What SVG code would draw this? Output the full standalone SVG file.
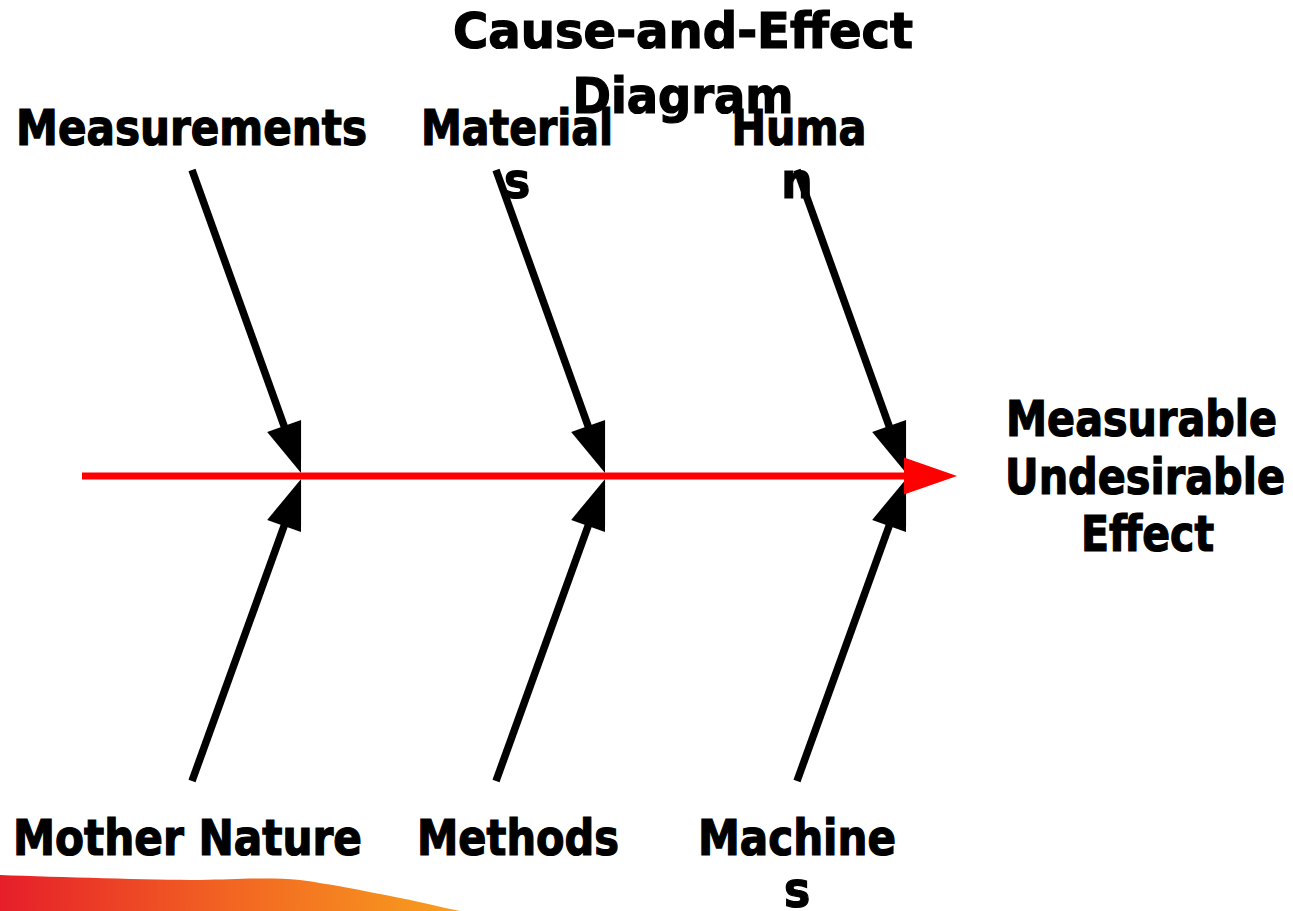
<svg xmlns="http://www.w3.org/2000/svg" width="1293" height="911" viewBox="0 0 1293 911">
  <style>
    .lbl { font-family: "DejaVu Sans Condensed", "DejaVu Sans", "Liberation Sans", sans-serif; font-weight: bold; font-size: 49px; fill: #000; stroke: #000; stroke-width: 1.2; text-anchor: middle; }
    .bone { stroke: #000; stroke-width: 7.5; fill: none; marker-end: url(#ah); }
    .spine { stroke: #ff0000; stroke-width: 7; fill: none; marker-end: url(#ahr); }
  </style>
  <defs>
    <marker id="ah" markerUnits="userSpaceOnUse" markerWidth="52" markerHeight="38" refX="5" refY="18" orient="auto" overflow="visible">
      <path d="M0,0 L50,18 L0,36 Z" fill="#000"/>
    </marker>
    <marker id="ahr" markerUnits="userSpaceOnUse" markerWidth="55" markerHeight="38" refX="1" refY="18.5" orient="auto" overflow="visible">
      <path d="M0,0 L53,18.5 L0,37 Z" fill="#ff0000"/>
    </marker>
    <linearGradient id="swoosh" x1="0" y1="0" x2="1" y2="0">
      <stop offset="0" stop-color="#e61e2a"/>
      <stop offset="0.5" stop-color="#f26522"/>
      <stop offset="1" stop-color="#f8a01e"/>
    </linearGradient>
  </defs>

  <path id="swoosh-band" d="M0,875 C60,877 150,880 200,880 C240,879 270,877 300,880 C330,884 360,890 400,898 C425,903 445,908 460,911 L0,911 Z" fill="url(#swoosh)"/>

  <g id="title">
    <text class="lbl" x="683" y="48" textLength="460" lengthAdjust="spacingAndGlyphs">Cause-and-Effect</text>
    <text class="lbl" x="683" y="113" textLength="221" lengthAdjust="spacingAndGlyphs">Diagram</text>
  </g>

  <g id="connectors">
    <line class="bone" x1="192" y1="170" x2="285.8" y2="430.7"/>
    <line class="bone" x1="496" y1="170" x2="589.8" y2="430.7"/>
    <line class="bone" x1="797" y1="170" x2="890.8" y2="430.7"/>
    <line class="bone" x1="192" y1="781" x2="285.8" y2="521.3"/>
    <line class="bone" x1="496" y1="781" x2="589.8" y2="521.3"/>
    <line class="bone" x1="797" y1="781" x2="890.8" y2="521.3"/>
    <line class="spine" x1="82" y1="476" x2="905" y2="476"/>
  </g>

  <g id="node-measurements">
    <text class="lbl" x="191.5" y="145" textLength="351" lengthAdjust="spacingAndGlyphs">Measurements</text>
  </g>
  <g id="node-materials">
    <text class="lbl" x="517" y="145" textLength="192" lengthAdjust="spacingAndGlyphs">Material</text>
    <text class="lbl" x="517" y="198">s</text>
  </g>
  <g id="node-human">
    <text class="lbl" x="799" y="145" textLength="135" lengthAdjust="spacingAndGlyphs">Huma</text>
    <text class="lbl" x="797" y="198">n</text>
  </g>
  <g id="node-effect">
    <text class="lbl" x="1141.5" y="436" textLength="271" lengthAdjust="spacingAndGlyphs">Measurable</text>
    <text class="lbl" x="1145" y="494" textLength="280" lengthAdjust="spacingAndGlyphs">Undesirable</text>
    <text class="lbl" x="1147.5" y="551" textLength="133" lengthAdjust="spacingAndGlyphs">Effect</text>
  </g>
  <g id="node-mother-nature">
    <text class="lbl" x="187.5" y="855" textLength="349" lengthAdjust="spacingAndGlyphs">Mother Nature</text>
  </g>
  <g id="node-methods">
    <text class="lbl" x="518" y="855" textLength="202" lengthAdjust="spacingAndGlyphs">Methods</text>
  </g>
  <g id="node-machines">
    <text class="lbl" x="797" y="855" textLength="198" lengthAdjust="spacingAndGlyphs">Machine</text>
    <text class="lbl" x="797" y="907">s</text>
  </g>
</svg>
